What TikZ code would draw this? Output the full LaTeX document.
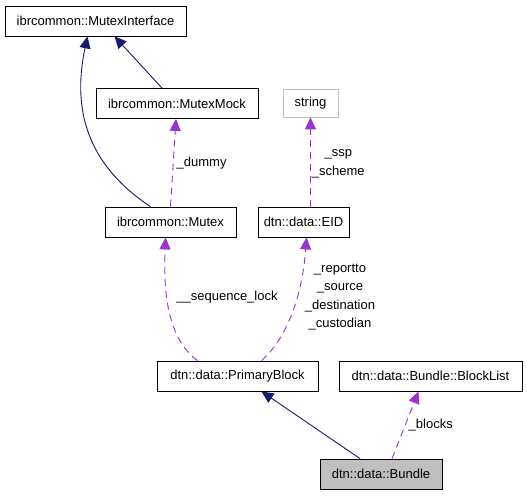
\documentclass[tikz,border=0pt]{standalone}
\usepackage{fontspec}
\setmainfont{Liberation Sans}
\usetikzlibrary{arrows.meta}
\definecolor{edgeblue}{RGB}{25,25,112}
\definecolor{edgepurple}{RGB}{154,50,205}
\definecolor{boxgrey}{RGB}{191,191,191}

\begin{document}
\begin{tikzpicture}[x=1pt, y=-1pt,
        cls/.style={draw, line width=0.8pt, inner sep=0pt, minimum height=30pt,
            font=\fontsize{13}{15}\selectfont},
        lbl/.style={inner sep=0pt, align=center, font=\fontsize{13}{18.6}\selectfont},
        inherit/.style={draw=edgeblue, line width=0.9pt,
            -{Triangle[length=12pt, width=11pt]}},
        usage/.style={draw=edgepurple, line width=0.9pt, dash pattern=on 7pt off 5pt,
            -{Triangle[length=12pt, width=11pt]}}]
            \useasboundingbox (0,0) rectangle (527,496);

            % classes
            \node [cls, minimum width=181pt] (mutexinterface) at (95.5,21) {ibrcommon::MutexInterface};
            \node [cls, minimum width=162pt] (mutexmock) at (177,103.5) {ibrcommon::MutexMock};
            \node [cls, minimum width=131pt] (mutex) at (170.5,222) {ibrcommon::Mutex};
            \node [cls, draw=boxgrey, minimum width=55pt, minimum height=28pt] (string) at (310.5,103) {string};
            \node [cls, minimum width=91pt] (eid) at (303.5,222) {dtn::data::EID};
            \node [cls, minimum width=161pt] (primaryblock) at (237.5,376) {dtn::data::PrimaryBlock};
            \node [cls, minimum width=183pt] (blocklist) at (430.5,376) {dtn::data::Bundle::BlockList};
            \node [cls, fill=boxgrey, minimum width=122pt] (bundle) at (381,474) {dtn::data::Bundle};

            % inheritance
            \draw [inherit] ([xshift=-15pt]mutexmock.north) -- ([xshift=19pt]mutexinterface.south);
            \draw [inherit] ([xshift=-20pt]mutex.north) .. controls (80,160) and (74,100) .. ([xshift=-8pt]mutexinterface.south);
            \draw [inherit] ([xshift=-21pt]bundle.north) -- ([xshift=24pt]primaryblock.south);

            % members
            \draw [usage] (mutex.north) -- ([xshift=-1pt]mutexmock.south)
                node [lbl, midway, anchor=west, xshift=3pt] (dummylbl) {\_dummy};
            \draw [usage] ([xshift=7pt]eid.north) -- (string.south)
                node [lbl, midway, anchor=west, xshift=1pt, yshift=-2pt] (eidlbl) {\_ssp\\\_scheme};
            \draw [usage] ([xshift=-40pt]primaryblock.north) .. controls (170,340) and (163,300) .. ([xshift=-5pt]mutex.south);
            \draw [usage] ([xshift=24pt]primaryblock.north) .. controls (285,340) and (302,300) .. ([xshift=3pt]eid.south);
            \draw [usage] ([xshift=11pt]bundle.north) -- ([xshift=-12pt]blocklist.south)
                node [lbl, midway, anchor=west, xshift=3pt] (blockslbl) {\_blocks};

            \node [lbl] (locklbl) at (227,297) {\_\_sequence\_lock};
            \node [lbl] (endpointlbl) at (340,297) {\_reportto\\\_source\\\_destination\\\_custodian};
        \end{tikzpicture}
\end{document}
